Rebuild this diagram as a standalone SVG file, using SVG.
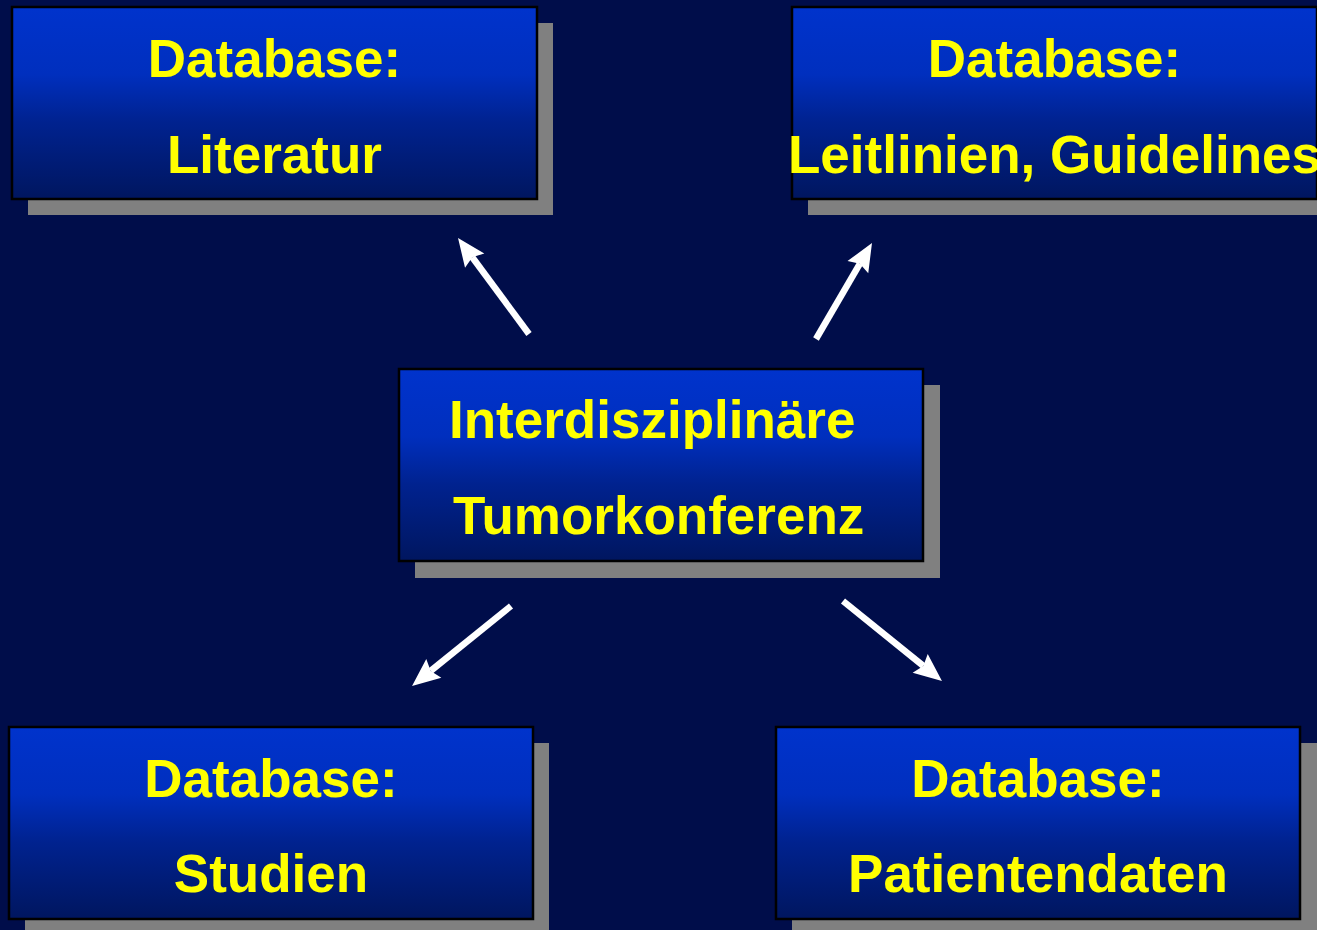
<svg xmlns="http://www.w3.org/2000/svg" width="1317" height="930" viewBox="0 0 1317 930">
<defs>
<linearGradient id="g" x1="0" y1="0" x2="0" y2="1">
<stop offset="0" stop-color="#0033CC"/>
<stop offset="0.35" stop-color="#002FBE"/>
<stop offset="0.6" stop-color="#00228F"/>
<stop offset="1" stop-color="#00165F"/>
</linearGradient>
<marker id="ah" markerUnits="userSpaceOnUse" markerWidth="30" markerHeight="26" refX="4" refY="13" orient="auto" overflow="visible">
<path d="M0,1 L28,13 L0,25 L4,13 Z" fill="#FFFFFF"/>
</marker>
<style>
.shadow{fill:#808080}
.box{fill:url(#g);stroke:#000000;stroke-width:2.5}
.t{font-family:"Liberation Sans",Arial,sans-serif;font-weight:bold;font-size:53px;fill:#FFFF00}
.c{text-anchor:middle}
.arrow{stroke:#FFFFFF;stroke-width:6.5;fill:none;marker-end:url(#ah)}
</style>
</defs>
<rect width="1317" height="930" fill="#000D4A"/>
<g id="node-literatur">
<rect class="shadow" x="28" y="23" width="525" height="192"/>
<rect class="box" x="12" y="7" width="525" height="192"/>
<text class="t c" x="274.5" y="77">Database:</text>
<text class="t c" x="274.5" y="173">Literatur</text>
</g>
<g id="node-leitlinien">
<rect class="shadow" x="808" y="23" width="525" height="192"/>
<rect class="box" x="792" y="7" width="525" height="192"/>
<text class="t c" x="1054.5" y="77">Database:</text>
<text class="t c" x="1054.5" y="173">Leitlinien, Guidelines</text>
</g>
<g id="node-tumorkonferenz">
<rect class="shadow" x="415" y="385" width="525" height="193"/>
<rect class="box" x="399" y="369" width="524" height="192"/>
<text class="t" x="449" y="438">Interdisziplinäre</text>
<text class="t" x="453" y="534">Tumorkonferenz</text>
</g>
<g id="node-studien">
<rect class="shadow" x="25" y="743" width="524" height="192"/>
<rect class="box" x="9" y="727" width="524" height="192"/>
<text class="t c" x="271" y="797">Database:</text>
<text class="t c" x="271" y="892">Studien</text>
</g>
<g id="node-patientendaten">
<rect class="shadow" x="792" y="743" width="525" height="192"/>
<rect class="box" x="776" y="727" width="524" height="192"/>
<text class="t c" x="1038" y="797">Database:</text>
<text class="t c" x="1038" y="892">Patientendaten</text>
</g>
<g id="connectors">
<line class="arrow" x1="529" y1="334" x2="472.3" y2="257.3"/>
<line class="arrow" x1="816" y1="339" x2="859.9" y2="263.7"/>
<line class="arrow" x1="511" y1="606" x2="430.7" y2="670.9"/>
<line class="arrow" x1="843" y1="601" x2="923.3" y2="665.9"/>
</g>
</svg>
